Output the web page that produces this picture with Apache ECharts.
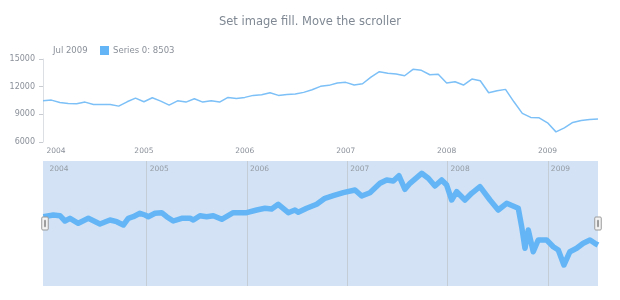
<!DOCTYPE html>
<html>
<head>
<meta charset="utf-8">
<script src="https://cdn.jsdelivr.net/npm/echarts@6/dist/echarts.min.js"></script>
<style>html,body{margin:0;padding:0;background:#fff;}#c{width:620px;height:300px;}</style>
</head>
<body>
<div id="c"></div>
<script>
// Monthly values, Jan 2004 .. Jul 2009
const months = [];
for (let y = 2004; y <= 2009; y++) {
  for (let m = 1; m <= 12; m++) {
    if (y === 2009 && m > 7) break;
    months.push(y + '-' + (m < 10 ? '0' + m : m));
  }
}
const series0 = [
  10467,10543,10293,10185,10141,10326,10076,10076,10076,9891,10359,10761,
  10359,10793,10435,10000,10467,10326,10685,10326,10467,10326,10837,10728,
  10837,11054,11120,11337,11054,11163,11196,11380,11663,12033,12141,12391,
  12467,12174,12315,13043,13620,13446,13370,13185,13880,13772,13293,13337,
  12391,12533,12174,12826,12641,11337,11554,11706,10359,9098,8663,8620,
  8076,7098,7533,8120,8337,8446,8503
];
const yTicks = [6000, 9000, 12000, 15000];
const yearLabels = [2004, 2005, 2006, 2007, 2008, 2009];

// Scroller (detailed) series: decimal year, value
const scrollX = [
  2003.969,2004.069,2004.135,2004.185,2004.235,2004.318,2004.418,2004.534,2004.634,2004.701,
  2004.767,2004.816,2004.866,2004.933,2004.983,2005.016,2005.083,2005.149,2005.199,2005.265,
  2005.349,2005.432,2005.465,2005.531,2005.598,2005.664,2005.748,2005.863,2005.997,2006.097,
  2006.179,2006.246,2006.312,2006.412,2006.478,2006.511,2006.595,2006.695,2006.777,2006.860,
  2006.960,2007.077,2007.144,2007.226,2007.326,2007.393,2007.459,2007.515,2007.575,2007.625,
  2007.742,2007.808,2007.874,2007.941,2007.991,2008.041,2008.091,2008.173,2008.240,2008.323,
  2008.423,2008.505,2008.589,2008.705,2008.739,2008.772,2008.805,2008.854,2008.904,2008.988,
  2009.054,2009.104,2009.160,2009.220,2009.287,2009.353,2009.420,2009.469,2009.500
];
const scrollY = [
  10756,10882,10830,10436,10637,10265,10637,10213,10510,10384,
  10138,10637,10756,11009,10882,10756,11009,11054,10756,10436,
  10637,10637,10510,10830,10756,10830,10562,11054,11054,11254,
  11381,11329,11678,11054,11254,11083,11381,11678,12125,12318,
  12542,12742,12296,12542,13241,13486,13412,13806,12794,13241,
  13985,13613,13040,13486,13114,11998,12616,11998,12497,12988,
  11998,11254,11753,11381,10012,8405,9766,8152,9022,9022,
  8524,8278,7162,8152,8405,8777,9022,8777,8650
];
const scrollData = scrollX.map((x, i) => [x, scrollY[i]]);

const lastVal = series0[series0.length - 1];
const textColor = '#8a9099';
const font = 'DejaVu Sans';

const chart = echarts.init(document.getElementById('c'), null, {renderer: 'canvas'});
chart.setOption({
  animation: false,
  backgroundColor: '#fff',
  title: [
    {text: 'Set image fill. Move the scroller', left: 'center', top: 11,
     textStyle: {fontSize: 11.5, fontWeight: 'normal', color: '#7f8893', fontFamily: font}},
    {text: 'Jul 2009', left: 48, top: 41,
     textStyle: {fontSize: 8.5, fontWeight: 'normal', color: textColor, fontFamily: font}}
  ],
  legend: {
    left: 95, top: 41, itemWidth: 9, itemHeight: 9, icon: 'rect', itemGap: 4,
    data: [{name: 'Series 0', icon: 'rect'}],
    formatter: (n) => n + ': ' + lastVal,
    textStyle: {fontSize: 8.5, color: textColor, fontFamily: font, padding: [0, 0, 0, -1]},
    selectedMode: false
  },
  grid: [
    {left: 43, right: 22, top: 59, height: 83},
    {left: 43, right: 22, top: 161, height: 125, show: true,
     backgroundColor: '#d3e3f5', borderWidth: 0}
  ],
  xAxis: [
    {type: 'category', gridIndex: 0, data: months, boundaryGap: false,
     axisLine: {show: false}, axisTick: {show: false}, splitLine: {show: false},
     axisLabel: {
       interval: (i) => i % 12 === 0, margin: 5, color: textColor, fontSize: 7.5, fontFamily: font,
       formatter: (v, i) => {
         const y = v.slice(0, 4);
         return i === 0 ? '{a|' + y + '}' : y;
       },
       rich: {a: {padding: [0, 0, 0, 26], fontSize: 7.5, color: textColor, fontFamily: font}}
     }},
    {type: 'value', gridIndex: 1, min: 2003.966, max: 2009.5, position: 'top',
     axisLine: {show: false},
     axisTick: {show: false, customValues: [2005, 2006, 2007, 2008, 2009]},
     splitLine: {show: true, lineStyle: {color: '#c4ccd6', width: 1}},
     axisLabel: {inside: true, customValues: yearLabels, align: 'left', margin: 4,
       padding: [0, 0, 0, 3], color: '#949aa3', fontSize: 7.5, fontFamily: font,
       formatter: (v) => String(Math.round(v))}}
  ],
  yAxis: [
    {type: 'value', gridIndex: 0, min: 6000, max: 15000, interval: 3000,
     axisLine: {show: true, lineStyle: {color: '#dcdfe3'}},
     axisTick: {show: true, length: 4, lineStyle: {color: '#c8ccd1'}},
     splitLine: {show: false},
     axisLabel: {color: textColor, fontSize: 8, fontFamily: font, margin: 8,
       formatter: (v) => String(v)}},
    {type: 'value', gridIndex: 1, min: 5600, max: 14900, show: false, splitLine: {show: false}}
  ],
  dataZoom: [{
    type: 'slider', xAxisIndex: 0, start: 0, end: 100,
    left: 43, right: 22, top: 161, height: 125,
    backgroundColor: 'rgba(0,0,0,0)', fillerColor: 'rgba(0,0,0,0)', borderColor: 'rgba(0,0,0,0)',
    showDataShadow: false, showDetail: false, brushSelect: false, moveHandleSize: 0,
    handleIcon: 'path://M1,0 L5,0 Q6,0 6,1 L6,11 Q6,12 5,12 L1,12 Q0,12 0,11 L0,1 Q0,0 1,0 Z M2.5,3 L3.5,3 L3.5,9 L2.5,9 Z',
    handleSize: 13,
    handleStyle: {color: '#f4f4f4', borderColor: '#9a9a9a', borderWidth: 1}
  }],
  series: [
    {name: 'Series 0', type: 'line', xAxisIndex: 0, yAxisIndex: 0, data: series0,
     showSymbol: false, symbol: 'none', color: '#64b5f6',
     lineStyle: {width: 1.5, color: '#7cc0f7'}},
    {name: 'scroller', type: 'line', xAxisIndex: 1, yAxisIndex: 1, data: scrollData,
     showSymbol: false, symbol: 'none', color: '#64b5f6',
     lineStyle: {width: 5.5, color: '#64b5f6', join: 'round', cap: 'butt'}}
  ]
});
</script>
</body>
</html>
